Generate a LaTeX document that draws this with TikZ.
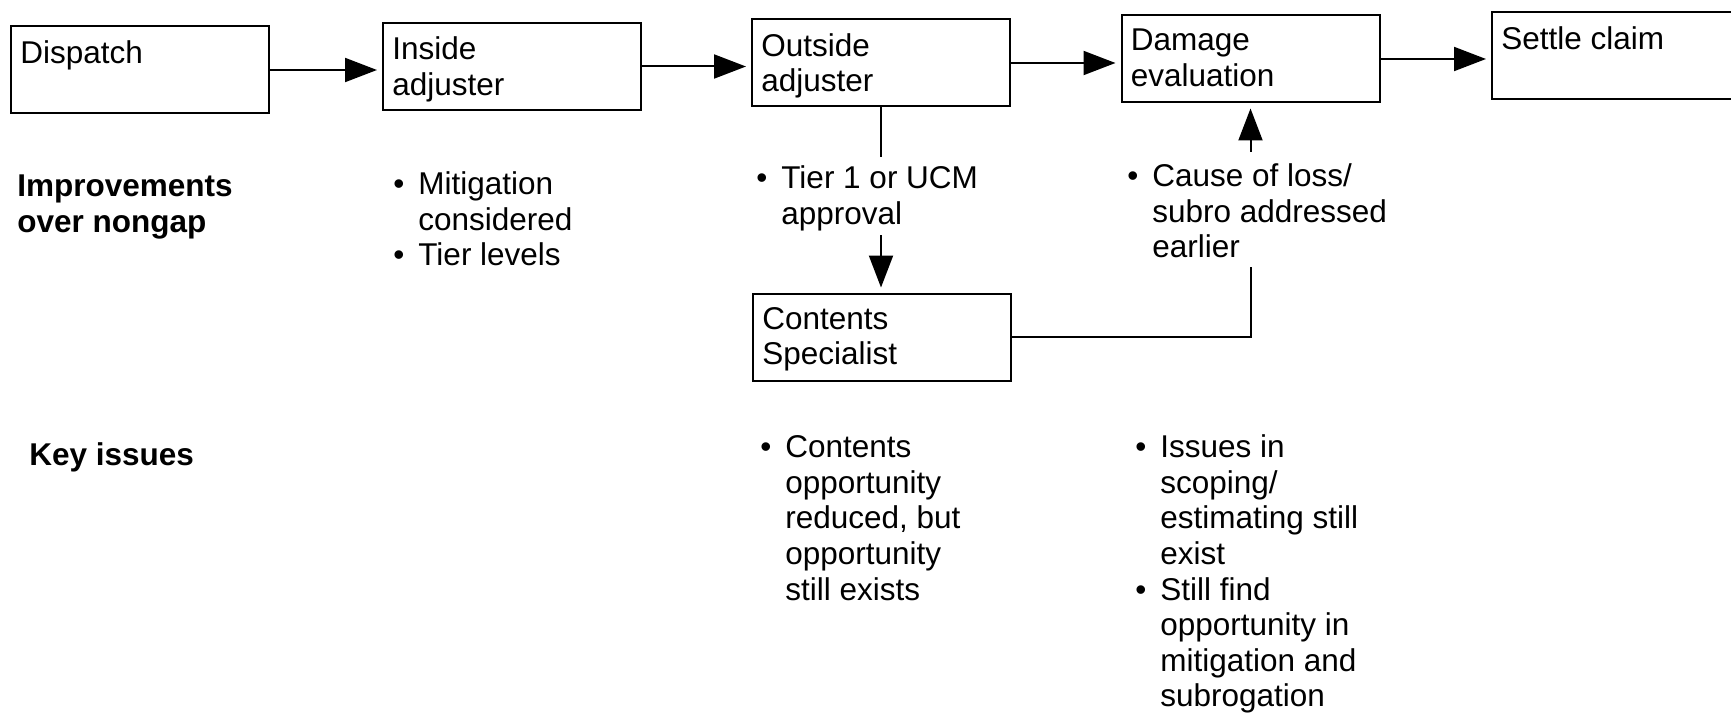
\documentclass[tikz,border=0pt]{standalone}
\usepackage{fontspec}
\setmainfont{Liberation Sans}
\usetikzlibrary{arrows.meta}

\newcommand{\bul}{\makebox[12.5pt][l]{\textbullet}}
\newcommand{\ind}{\hspace*{12.5pt}}

\begin{document}
\begin{tikzpicture}[x=0.5pt, y=-0.5pt,
  font=\fontsize{15.75}{17.8}\selectfont,
  stage/.style={draw, line width=1pt, minimum width=129pt, minimum height=43.5pt, inner sep=0pt},
  stagetext/.style={anchor=north west, align=left, inner xsep=5pt, inner ysep=7.2pt},
  note/.style={anchor=north west, align=left, inner sep=0pt},
  heading/.style={note, font=\fontsize{15.75}{17.8}\selectfont\bfseries},
  flow/.style={line width=1pt, -{Triangle[length=16pt, width=12pt]}, shorten >=2.5pt},
  link/.style={line width=1pt}]
\useasboundingbox (0,0) rectangle (1731,717);

% process steps
\node[stage] (dispatch) at (140, 70) {};
\node[stagetext] (dispatch-t) at (dispatch.north west) {Dispatch};
\node[stage] (inside) at (512, 66.5) {};
\node[stagetext] (inside-t) at (inside.north west) {Inside\\adjuster};
\node[stage] (outside) at (881, 63) {};
\node[stagetext] (outside-t) at (outside.north west) {Outside\\adjuster};
\node[stage] (damage) at (1250.5, 59) {};
\node[stagetext] (damage-t) at (damage.north west) {Damage\\evaluation};
\node[stage] (settle) at (1621, 56) {};
\node[stagetext] (settle-t) at (settle.north west) {Settle claim};
\node[stage] (contents) at (882, 337) {};
\node[stagetext] (contents-t) at (contents.north west) {Contents\\Specialist};

\draw[flow] (dispatch.east) -- (dispatch.east -| inside.west);
\draw[flow] (inside.east) -- (inside.east -| outside.west);
\draw[flow] (outside.east) -- (outside.east -| damage.west);
\draw[flow] (damage.east) -- (damage.east -| settle.west);

% branch through the contents specialist
\coordinate (apprA) at (outside.south |- 0,157);
\coordinate (apprB) at (outside.south |- 0,235);
\draw[link] (outside.south) -- (apprA);
\draw[flow] (apprB) -- (apprB |- contents.north);

\coordinate (causeA) at (damage.south |- 0,152);
\coordinate (causeB) at (damage.south |- 0,267);
\draw[link] (contents.east) -| (causeB);
\draw[flow] (causeA) -- (damage.south);

% row headings
\node[heading] (improve) at (17, 174.4) {Improvements\\over nongap};
\node[heading] (keyiss) at (29, 442.4) {Key issues};

% improvements
\node[note] (mitig) at (393, 171.4) {\bul Mitigation\\\ind considered\\\bul Tier levels};
\node[note] (tier) at (756, 165.4) {\bul Tier 1 or UCM\\\ind approval};
\node[note] (cause) at (1127, 163.4) {\bul Cause of loss/\\\ind subro addressed\\\ind earlier};

% key issues
\node[note] (contnote) at (760, 435.4) {\bul Contents\\\ind opportunity\\\ind reduced, but\\\ind opportunity\\\ind still exists};
\node[note] (issues) at (1135, 434.4) {\bul Issues in\\\ind scoping/\\\ind estimating still\\\ind exist\\\bul Still find\\\ind opportunity in\\\ind mitigation and\\\ind subrogation};

\end{tikzpicture}
\end{document}
